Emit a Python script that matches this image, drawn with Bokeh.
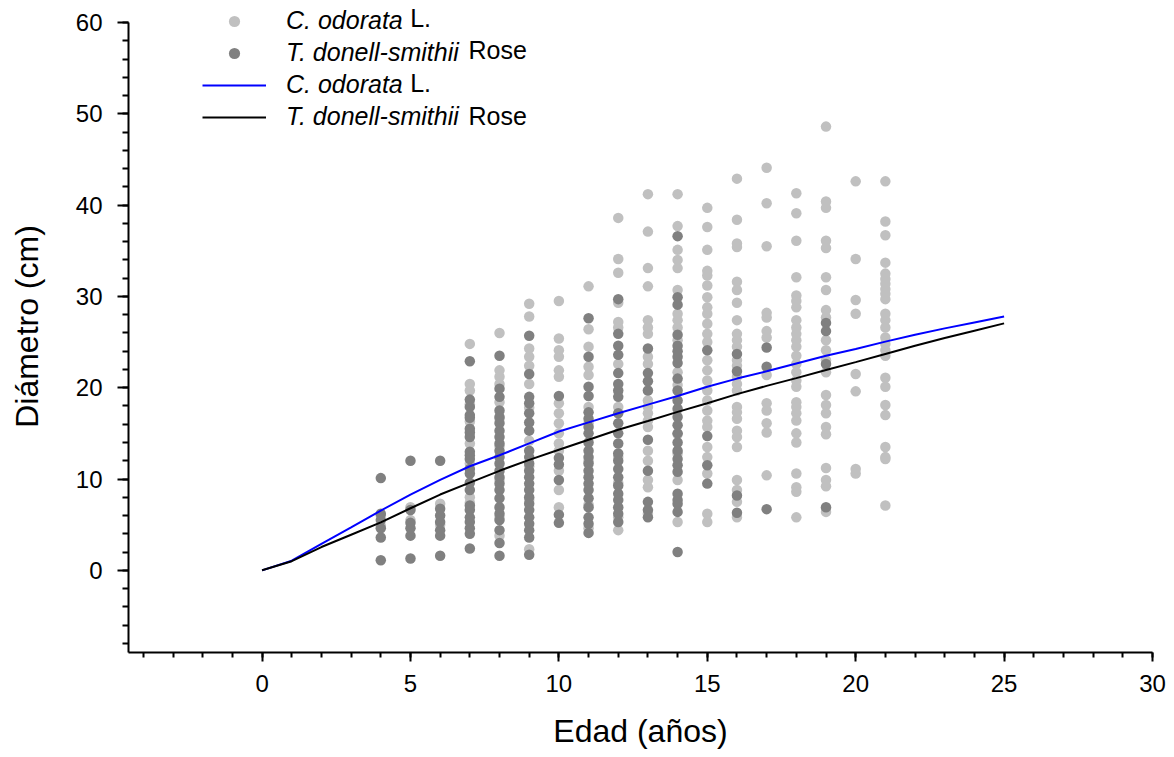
from bokeh.plotting import figure
from bokeh.models import (Range1d, SingleIntervalTicker, Legend, LegendItem, Label)
from bokeh.embed import file_html
from bokeh.resources import INLINE

# ---------------- data ----------------
# Observed diameters (cm) per age (years)
cod_ages = [4, 5, 6, 7, 8, 9, 10, 11, 12, 13, 14, 15, 16, 17, 18, 19, 20, 21]
cod_vals = [
    [6.0, 4.9],
    [6.9, 5.5],
    [7.3, 5.0],
    [24.8, 20.4, 19.7, 18.2, 16.3, 13.9, 11.7, 8.0, 7.4],
    [26.0, 21.9, 21.2, 20.4, 18.4, 16.6, 13.6, 9.9, 5.8, 3.8],
    [29.2, 27.8, 24.3, 23.4, 22.4, 20.4, 17.8, 14.2, 11.4, 7.7, 2.3],
    [29.5, 25.4, 24.1, 23.4, 21.9, 21.2, 18.3, 17.2, 16.1, 15.0, 13.9, 13.1, 10.9, 8.8, 6.9],
    [31.1, 26.4, 24.5, 22.3, 21.4, 17.9, 16.1, 12.0, 7.2, 4.6],
    [38.6, 34.1, 32.6, 29.3, 27.2, 26.6, 22.6, 17.9, 12.4, 9.6, 5.8, 4.4],
    [41.2, 37.1, 33.1, 31.1, 27.4, 26.6, 25.9, 23.4, 22.6, 18.6, 17.9, 17.2, 16.4, 15.7,
     13.1, 12.0, 9.9, 9.1, 6.2],
    [41.2, 37.7, 35.1, 34.0, 33.1, 30.7, 28.1, 27.4, 26.6, 25.2, 21.7, 20.3, 14.9, 12.8,
     9.9, 5.3],
    [39.7, 37.6, 35.1, 32.8, 32.3, 31.2, 29.9, 28.8, 28.1, 27.0, 25.9, 25.0, 23.0, 21.9,
     20.8, 19.7, 18.6, 17.5, 16.4, 15.7, 13.5, 12.4, 10.6, 6.2, 5.3],
    [42.9, 38.4, 35.8, 35.4, 31.6, 30.7, 29.3, 27.4, 25.9, 25.2, 24.5, 23.0, 22.4, 21.2,
     20.4, 19.7, 17.9, 17.3, 16.6, 15.3, 14.6, 13.5, 9.9, 8.8, 7.5, 5.8],
    [44.1, 40.2, 35.5, 28.2, 27.7, 26.2, 25.5, 21.4, 18.3, 17.5, 16.1, 15.1, 10.4],
    [41.3, 39.1, 36.1, 32.1, 30.1, 29.5, 28.8, 27.4, 26.6, 25.9, 25.2, 24.5, 23.5, 22.6,
     21.7, 20.8, 20.1, 18.4, 17.9, 17.2, 16.4, 15.0, 14.0, 10.6, 9.1, 8.6, 5.8],
    [48.6, 40.4, 39.7, 36.1, 35.3, 32.1, 30.7, 28.5, 27.7, 25.2, 24.1, 23.0, 21.7, 19.2,
     18.1, 17.2, 15.7, 14.9, 11.2, 9.9, 9.2, 6.4],
    [42.6, 34.1, 29.6, 28.1, 21.5, 19.6, 11.1, 10.6],
    [42.6, 38.2, 36.7, 33.7, 32.5, 31.9, 31.4, 30.8, 30.3, 29.7, 28.1, 27.4, 26.6, 25.5,
     24.8, 24.1, 23.5, 21.1, 20.1, 18.1, 17.0, 13.5, 12.4, 12.2, 7.1],
]

tds_ages = [4, 5, 6, 7, 8, 9, 10, 11, 12, 13, 14, 15, 16, 17, 19]
tds_vals = [
    [10.1, 6.2, 5.5, 4.6, 3.6, 1.1],
    [12.0, 6.6, 5.2, 4.6, 3.8, 1.3],
    [12.0, 6.75, 6.0, 5.3, 4.4, 3.8, 1.6],
    [22.9, 18.7, 17.9, 17.0, 16.7, 15.5, 15.1, 14.6, 13.0, 12.6, 12.2, 11.1, 10.6, 9.6,
     8.8, 7.1, 6.6, 5.8, 5.3, 4.6, 4.0, 2.4],
    [23.5, 19.9, 19.0, 17.5, 16.8, 16.1, 15.3, 14.6, 13.9, 13.1, 12.4, 11.7, 10.9, 10.2,
     9.5, 8.8, 7.9, 6.9, 6.2, 5.5, 4.4, 3.0, 1.6],
    [25.7, 21.5, 19.0, 18.3, 17.2, 16.2, 15.3, 13.1, 12.4, 11.7, 10.9, 10.2, 9.5, 8.8,
     8.0, 7.3, 6.6, 5.8, 5.1, 4.4, 3.6, 1.7],
    [19.1, 12.3, 11.6, 9.9, 6.1, 5.2],
    [27.6, 23.4, 20.1, 19.1, 17.3, 16.6, 15.7, 15.0, 14.0, 13.1, 12.4, 11.7, 10.9, 10.2,
     9.5, 8.8, 7.9, 6.9, 5.8, 5.1, 4.1],
    [29.7, 25.9, 24.6, 23.6, 21.6, 20.4, 19.7, 19.0, 17.2, 16.1, 15.0, 13.9, 12.8, 12.0,
     11.1, 10.2, 9.3, 8.4, 7.7, 6.9, 6.2, 5.3],
    [24.3, 21.6, 20.7, 19.7, 14.3, 10.9, 7.5, 6.6, 5.8],
    [36.6, 29.9, 29.1, 25.8, 24.6, 24.0, 23.4, 22.7, 21.0, 19.7, 18.6, 17.7, 16.8, 15.9,
     15.0, 14.0, 13.1, 12.2, 11.5, 10.8, 8.4, 7.7, 7.3, 6.4, 2.0],
    [24.1, 14.7, 11.5, 9.5],
    [23.7, 21.8, 8.2, 6.3],
    [24.4, 22.3, 6.7],
    [27.1, 26.2, 22.6, 6.9],
]

# Fitted growth curves (age -> diameter)
curve_age = list(range(0, 26))
cod_curve = [0.0, 1.05, 2.9, 4.7, 6.55, 8.3, 9.9, 11.4, 12.6, 13.9, 15.2, 16.2, 17.2,
             18.15, 19.1, 20.1, 21.0, 21.8, 22.65, 23.5, 24.25, 25.05, 25.8, 26.5, 27.15, 27.8]
tds_curve = [0.0, 1.0, 2.55, 3.9, 5.25, 6.8, 8.3, 9.6, 10.9, 12.1, 13.2, 14.3, 15.4,
             16.35, 17.35, 18.3, 19.3, 20.2, 21.05, 21.95, 22.8, 23.7, 24.6, 25.45, 26.25, 27.05]

legend_names = ["C. odorata", "T. donell-smithii"]
legend_suffix = ["L.", "Rose"]

FONT = "Liberation Sans"
LIGHT = "#c0c0c0"
DARK = "#808080"
LEG_FS = 25

def flatten(ages, vals):
    xs, ys = [], []
    for a, vs in zip(ages, vals):
        for v in vs:
            xs.append(a)
            ys.append(v)
    return xs, ys

cx, cy = flatten(cod_ages, cod_vals)
tx, ty = flatten(tds_ages, tds_vals)

X0, X1 = -4.5, 30
Y0, Y1 = -9, 62.41

p = figure(width=1174, height=757, x_range=Range1d(X0, X1), y_range=Range1d(Y0, Y1),
           output_backend="svg", toolbar_location=None,
           min_border_left=128, min_border_right=22, min_border_top=0, min_border_bottom=105)
p.outline_line_color = None
p.grid.visible = False
p.background_fill_color = "white"

r_c = p.scatter(cx, cy, size=10.5, marker="circle", fill_color=LIGHT, line_color=None)
r_t = p.scatter(tx, ty, size=10.5, marker="circle", fill_color=DARK, line_color=None)
r_cl = p.line(curve_age, cod_curve, line_color="#0000ff", line_width=2)
r_tl = p.line(curve_age, tds_curve, line_color="black", line_width=2)

xa = p.xaxis[0]
ya = p.yaxis[0]
xa.ticker = SingleIntervalTicker(interval=5, num_minor_ticks=5)
ya.ticker = SingleIntervalTicker(interval=10, num_minor_ticks=5)
ya.bounds = (-9, 60)
for ax in (xa, ya):
    ax.axis_line_width = 2
    ax.axis_line_color = "black"
    ax.major_tick_line_width = 2
    ax.minor_tick_line_width = 2
    ax.major_tick_line_color = "black"
    ax.minor_tick_line_color = "black"
    ax.major_tick_in = 0
    ax.minor_tick_in = 0
    ax.major_label_text_font = FONT
    ax.major_label_text_font_size = "24px"
    ax.major_label_text_color = "black"
    ax.axis_label_text_font = FONT
    ax.axis_label_text_font_size = "32px"
    ax.axis_label_text_font_style = "normal"
    ax.axis_label_text_color = "black"
xa.major_label_standoff = 13
ya.major_label_standoff = 15
xa.major_tick_out = 9
xa.minor_tick_out = 5
ya.major_tick_out = 11
ya.minor_tick_out = 6
xa.axis_label = "Edad (años)"
ya.axis_label = "Diámetro (cm)"
xa.axis_label_standoff = 18
ya.axis_label_standoff = 28

legend = Legend(items=[
    LegendItem(label=legend_names[0], renderers=[r_c]),
    LegendItem(label=legend_names[1], renderers=[r_t]),
    LegendItem(label=legend_names[0], renderers=[r_cl]),
    LegendItem(label=legend_names[1], renderers=[r_tl]),
], location=(74, 521), orientation="vertical",
    glyph_width=64, glyph_height=28, label_height=28, spacing=3,
    label_standoff=20, padding=0, margin=0,
    label_text_font=FONT, label_text_font_size=f"{LEG_FS}px", label_text_font_style="italic",
    label_text_color="black", border_line_color=None, background_fill_alpha=0)
p.add_layout(legend)

# upright suffix of each legend entry, positioned in data space
frame_h = 652.0
frame_w = 1024.0
def sx_to_x(sx):
    return X0 + (sx - 128.0) / frame_w * (X1 - X0)
def sy_to_y(sy):
    return Y1 - sy / frame_h * (Y1 - Y0)

row_y = [17.3, 49.9, 82.5, 115.1]
# text start 286 px + italic text advance (Arial metrics, em) + one space
name_em = [4.669, 7.001]
suffix_x = [286 + (em + 0.278) * LEG_FS for em in name_em]
for i, ry in enumerate(row_y):
    k = i % 2
    p.add_layout(Label(x=sx_to_x(suffix_x[k]), y=sy_to_y(ry), text=legend_suffix[k],
                       text_font=FONT, text_font_size=f"{LEG_FS}px", text_color="black",
                       text_baseline="middle", text_align="left"))

open("out.html", "w").write(file_html(p, INLINE))
